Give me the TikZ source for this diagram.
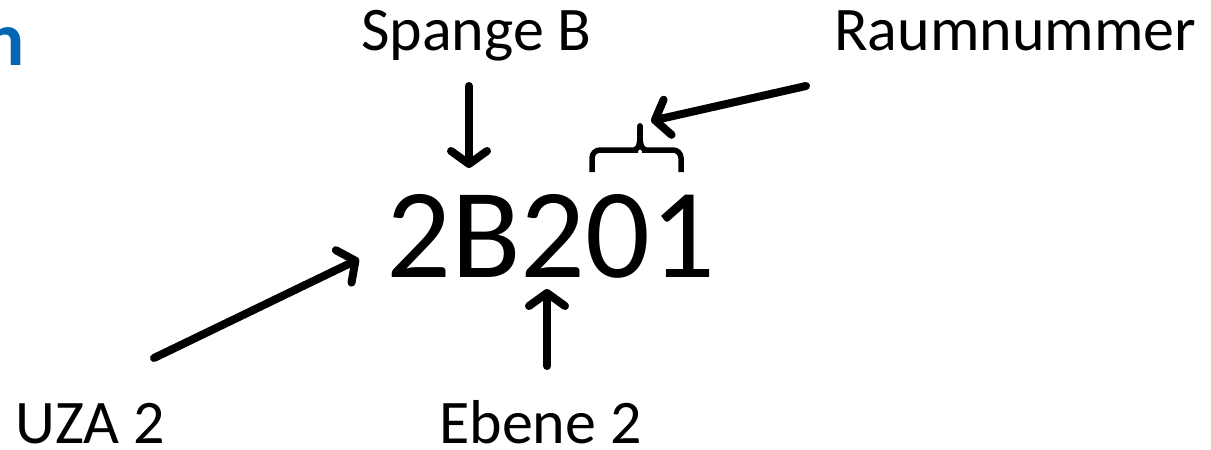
\documentclass[tikz,border=0pt]{standalone}
\usepackage{fontspec}
\setmainfont{Carlito}
\usetikzlibrary{arrows.meta}
\definecolor{titleblue}{RGB}{0,102,178}
\begin{document}
\begin{tikzpicture}[x=1pt,y=-1pt,
  lbl/.style={anchor=base west, inner sep=0pt, text depth=0pt, font=\fontsize{62}{70}\selectfont},
  arr/.style={line width=8pt, line cap=round, line join=round, -{Straight Barb[round,length=13pt,width=36pt]}},
  bracestyle/.style={line width=5.5pt, line cap=butt, rounded corners=8pt}]
\useasboundingbox (0,0) rectangle (1211,450);
\clip (0,0) rectangle (1211,450);
% partial title
\node[anchor=base east, inner sep=0pt, text depth=0pt, font=\bfseries\fontsize{77}{80}\selectfont, text=titleblue] (title) at (25,65) {n};
% labels
\node[lbl] (spange) at (361,50) {Spange B};
\node[lbl] (raum) at (834,50) {Raumnummer};
\node[lbl] (uza) at (15,443) {UZA 2};
\node[lbl] (ebene) at (439,443) {Ebene 2};
\node[anchor=base west, inner sep=0pt, text depth=0pt, font=\fontsize{128}{140}\selectfont] (code) at (386,277) {2B201};
% connector end points
\coordinate (spangeS) at (469,86);
\coordinate (spangeT) at (469,168);
\coordinate (ebeneS) at (547,366);
\coordinate (ebeneT) at (547,289);
\coordinate (uzaS) at (154,358);
\coordinate (uzaT) at (359,259);
\coordinate (raumS) at (806,86);
\coordinate (raumT) at (651,121);
\coordinate (braceTip) at (640,126);
% arrows
\draw[arr] (spangeS) -- (spangeT);
\draw[arr] (ebeneS) -- (ebeneT);
\draw[arr] (uzaS) -- (uzaT);
\draw[arr] (raumS) -- (raumT);
% brace
\draw[bracestyle] (592,172) -- (592,150) -- (638,150);
\draw[bracestyle] (681,172) -- (681,150) -- (642,150);
\draw[line width=5.5pt, line cap=round] (braceTip) .. controls (640,143) and (640,147) .. (635,150);
\draw[line width=5.5pt, line cap=round] (braceTip) .. controls (640,143) and (640,147) .. (645,150);
\end{tikzpicture}
\end{document}
